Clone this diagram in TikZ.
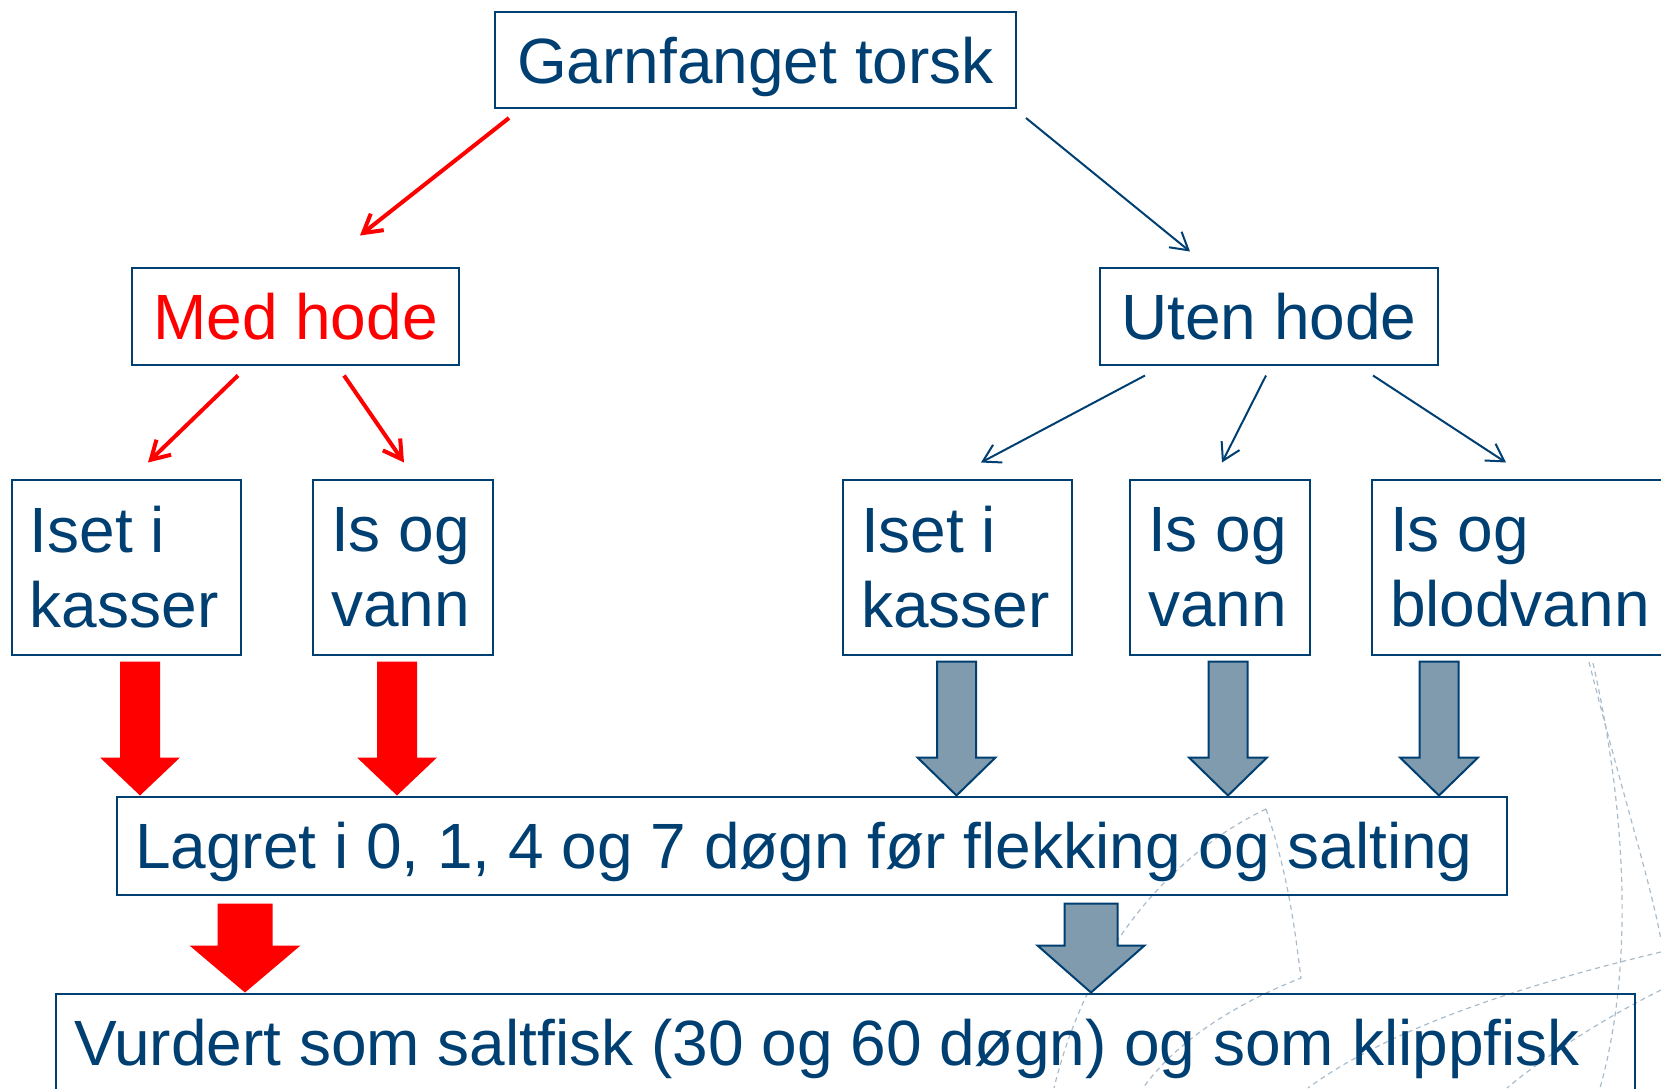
\documentclass[tikz,border=0pt]{standalone}
\usepackage{fontspec}
\setmainfont{Liberation Sans}
\usepackage{tikz}
\usetikzlibrary{shapes.geometric, arrows, arrows.meta, calc}
\definecolor{navy}{RGB}{0,63,114}
\definecolor{steel}{RGB}{127,155,173}
\definecolor{faint}{RGB}{170,188,202}
\tikzstyle{box} = [rectangle, draw=navy, line width=1pt, text=navy, font=\fontsize{32}{37.5}\selectfont\frenchspacing, inner xsep=9pt, inner ysep=0pt]
\tikzstyle{headbox} = [box, text height=23pt, text depth=0pt, minimum height=48.5pt]
\tikzstyle{icebox} = [box, align=flush left, minimum height=87.5pt]
\tikzstyle{stagebox} = [box, align=flush left, text height=23pt, text depth=0pt, minimum height=49pt]
\tikzstyle{redarrow} = [red, line width=2pt, -{Straight Barb[length=9pt,width=10.5pt]}]
\tikzstyle{bluearrow} = [navy, line width=1pt, -{Straight Barb[length=8.5pt,width=10pt]}]
\tikzstyle{redblock} = [fill=red, draw=none]
\tikzstyle{greyblock} = [fill=steel, draw=navy, line width=1pt, line join=miter]
\tikzstyle{template} = [faint, line width=0.6pt, dash pattern=on 2.5pt off 2pt]
% #1 style, #2 start, #3 target, #4 shaft half width, #5 head half width, #6 head length
\newcommand{\fatarrow}[6]{%
  \draw[#1] let \p1=#2, \p2=#3 in
    (\x1-#4,\y1) -- (\x1+#4,\y1) -- (\x1+#4,\y2+#6) -- (\x1+#5,\y2+#6) -- (\x1,\y2)
    -- (\x1-#5,\y2+#6) -- (\x1-#4,\y2+#6) -- cycle;}

\begin{document}
\begin{tikzpicture}[node distance=128pt]
    \useasboundingbox (0,0) rectangle (830.5pt,-544pt);

    \draw [template] (794.5pt,-331pt) .. controls (812pt,-400pt) and (825pt,-440pt) .. (830.5pt,-470pt);
    \draw [template] (796.5pt,-331.5pt) .. controls (812pt,-400pt) and (818pt,-480pt) .. (800pt,-544pt);
    \draw [template] (830.5pt,-476pt) .. controls (780pt,-488pt) and (700pt,-510pt) .. (654pt,-544pt);
    \draw [template] (830.5pt,-495pt) .. controls (800pt,-510pt) and (770pt,-530pt) .. (753.5pt,-544pt);
    \draw [template] (633pt,-404.5pt) .. controls (590pt,-425pt) and (545pt,-470pt) .. (527pt,-544pt);
    \draw [template] (633pt,-404.5pt) .. controls (645pt,-440pt) and (648pt,-470pt) .. (650.5pt,-489pt)
        .. controls (610pt,-505pt) and (585pt,-525pt) .. (571.5pt,-544pt);

    \node (garn) [headbox, minimum width=260.5pt, minimum height=48pt] at (377.75pt,-30pt) {Garnfanget torsk};
    \node (med) [headbox, minimum width=163.5pt, text=red, below of=garn, xshift=-230pt] {Med hode};
    \node (uten) [headbox, minimum width=169pt, below of=garn, xshift=256.75pt] {Uten hode};
    \node (iset1) [icebox, text width=96.5pt, below of=med, xshift=-84.5pt, yshift=2.5pt] {Iset i\\kasser};
    \node (isog1) [icebox, text width=72pt, below of=med, xshift=53.75pt, yshift=2.5pt] {Is og\\vann};
    \node (iset2) [icebox, text width=96.5pt, below of=uten, xshift=-155.75pt, yshift=2.5pt] {Iset i\\kasser};
    \node (isog2) [icebox, text width=72pt, below of=uten, xshift=-24.5pt, yshift=2.5pt] {Is og\\vann};
    \node (blod) [icebox, text width=146pt, below of=uten, xshift=133.5pt, yshift=2.5pt] {Is og\\blodvann};
    \node (lagret) [stagebox, text width=677pt, below of=isog1, xshift=204.5pt, yshift=-11.25pt] {Lagret i 0, 1, 4 og 7 døgn før flekking og salting};
    \node (vurdert) [stagebox, text width=771.5pt, below of=lagret, xshift=16.75pt, yshift=29.5pt] {Vurdert som saltfisk (30 og 60 døgn) og som klippfisk};

    \draw [redarrow] ([xshift=7.5pt,yshift=-4.5pt]garn.south west) -- ([xshift=32.25pt,yshift=15.5pt]med.north);
    \draw [bluearrow] ([xshift=4.5pt,yshift=-4.5pt]garn.south east) -- ([xshift=-39.5pt,yshift=7.5pt]uten.north);
    \draw [redarrow] ([xshift=-28.75pt,yshift=-5pt]med.south) -- ([xshift=10.75pt,yshift=8pt]iset1.north);
    \draw [redarrow] ([xshift=24.25pt,yshift=-5pt]med.south) -- ([xshift=0.5pt,yshift=8pt]isog1.north);
    \draw [bluearrow] ([xshift=-62pt,yshift=-5pt]uten.south) -- ([xshift=11.75pt,yshift=8pt]iset2.north);
    \draw [bluearrow] ([xshift=-1.5pt,yshift=-5pt]uten.south) -- ([xshift=1pt,yshift=8pt]isog2.north);
    \draw [bluearrow] ([xshift=52pt,yshift=-5pt]uten.south) -- ([xshift=67.5pt,yshift=8pt]blod.north west);

    \fatarrow{redblock}{([xshift=6.75pt,yshift=-3pt]iset1.south)}{(lagret.north)}{10pt}{20pt}{19pt}
    \fatarrow{redblock}{([xshift=-3pt,yshift=-3pt]isog1.south)}{(lagret.north)}{10pt}{20pt}{19pt}
    \fatarrow{greyblock}{([xshift=-0.5pt,yshift=-3pt]iset2.south)}{(lagret.north)}{9.75pt}{19.5pt}{19pt}
    \fatarrow{greyblock}{([xshift=4pt,yshift=-3pt]isog2.south)}{(lagret.north)}{9.75pt}{19.5pt}{19pt}
    \fatarrow{greyblock}{([xshift=34pt,yshift=-3pt]blod.south west)}{(lagret.north)}{9.75pt}{19.5pt}{19pt}
    \fatarrow{redblock}{([xshift=64.5pt,yshift=-4pt]lagret.south west)}{(vurdert.north)}{13.75pt}{27.75pt}{23.5pt}
    \fatarrow{greyblock}{([xshift=487.5pt,yshift=-4pt]lagret.south west)}{(vurdert.north)}{13.25pt}{26.75pt}{23.5pt}
\end{tikzpicture}
\end{document}
